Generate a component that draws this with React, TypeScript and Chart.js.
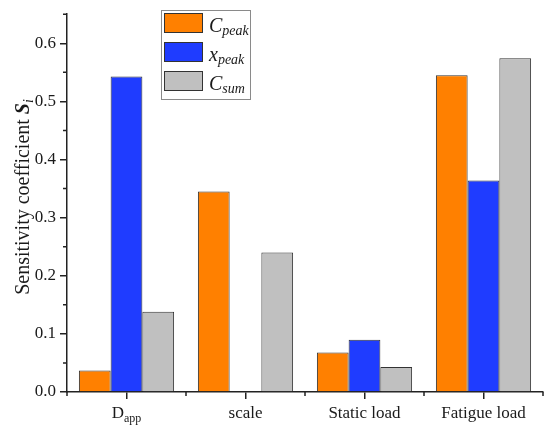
import { useEffect, useRef } from "react"
import { Chart, registerables } from "chart.js"

Chart.register(...registerables)

// "_" marks the start of a subscript
const categories = ["D_app", "scale", "Static load", "Fatigue load"]
const seriesNames = ["C_peak", "x_peak", "C_sum"]
const cPeak = [0.037, 0.345, 0.068, 0.545]
const xPeak = [0.543, 0, 0.09, 0.364]
const cSum = [0.138, 0.24, 0.043, 0.574]
const yMinorTicks = [0.05, 0.15, 0.25, 0.35, 0.45, 0.55, 0.65]

const colors = ["#FF8000", "#1F3CFF", "#C0C0C0"]
const serif = "'Liberation Serif', 'Times New Roman', serif"

function drawRich(
  ctx: CanvasRenderingContext2D,
  text: string,
  x: number,
  y: number,
  font: string,
  subFont: string,
  subDy: number,
  center: boolean
) {
  const [base, sub] = text.split("_")
  ctx.font = font
  const w1 = ctx.measureText(base).width
  ctx.font = subFont
  const w2 = sub ? ctx.measureText(sub).width : 0
  let sx = center ? x - (w1 + w2) / 2 : x
  ctx.textAlign = "left"
  ctx.textBaseline = "alphabetic"
  ctx.font = font
  ctx.fillText(base, sx, y)
  if (sub) {
    ctx.font = subFont
    ctx.fillText(sub, sx + w1, y + subDy)
  }
}

const overlay = {
  id: "overlay",
  afterDraw(chart: any) {
    const ctx: CanvasRenderingContext2D = chart.ctx
    const xs = chart.scales.x
    const ys = chart.scales.y
    const { left, bottom } = chart.chartArea
    ctx.save()
    ctx.strokeStyle = "#222"
    ctx.lineWidth = 1.5
    ctx.beginPath()
    for (const v of yMinorTicks) {
      const py = ys.getPixelForValue(v)
      ctx.moveTo(left - 4, py)
      ctx.lineTo(left, py)
    }
    for (let i = 0; i <= categories.length; i++) {
      const px = xs.getPixelForValue(i - 0.5)
      ctx.moveTo(px, bottom)
      ctx.lineTo(px, bottom + 4)
    }
    ctx.stroke()

    ctx.fillStyle = "#1a1a1a"
    categories.forEach((c, i) => {
      drawRich(ctx, c, xs.getPixelForValue(i), 418, `17px ${serif}`, `12px ${serif}`, 4, true)
    })

    // y axis title
    const t1 = "Sensitivity coefficient "
    const f1 = `20px ${serif}`
    const f2 = `italic bold 20px ${serif}`
    const f3 = `italic 14px ${serif}`
    ctx.font = f1
    const w1 = ctx.measureText(t1).width
    ctx.font = f2
    const w2 = ctx.measureText("S").width
    ctx.font = f3
    const w3 = ctx.measureText("i").width
    ctx.translate(29, 197)
    ctx.rotate(-Math.PI / 2)
    let tx = -(w1 + w2 + w3) / 2
    ctx.textAlign = "left"
    ctx.textBaseline = "alphabetic"
    ctx.font = f1
    ctx.fillText(t1, tx, 0)
    tx += w1
    ctx.font = f2
    ctx.fillText("S", tx, 0)
    tx += w2
    ctx.font = f3
    ctx.fillText("i", tx, 4)
    ctx.setTransform(1, 0, 0, 1, 0, 0)
    ctx.scale(chart.currentDevicePixelRatio, chart.currentDevicePixelRatio)

    // legend
    ctx.strokeStyle = "#8a8a8a"
    ctx.lineWidth = 1
    ctx.strokeRect(161.5, 10.5, 89, 89)
    seriesNames.forEach((name, i) => {
      const top = 13 + i * 29
      ctx.fillStyle = colors[i]
      ctx.fillRect(164, top, 39, 20)
      ctx.strokeStyle = "#333"
      ctx.strokeRect(164.5, top + 0.5, 38, 19)
      ctx.fillStyle = "#1a1a1a"
      drawRich(ctx, name, 209, top + 19, `italic 20px ${serif}`, `italic 14px ${serif}`, 3, false)
    })
    ctx.restore()
  },
}

export default function App() {
  const canvasRef = useRef<HTMLCanvasElement>(null)
  const chartRef = useRef<Chart | null>(null)

  useEffect(() => {
    if (!canvasRef.current) return
    if (chartRef.current) chartRef.current.destroy()
    const ctx = canvasRef.current.getContext("2d")
    if (!ctx) return

    const values = [cPeak, xPeak, cSum]
    chartRef.current = new Chart(ctx, {
      type: "bar",
      data: {
        labels: categories,
        datasets: seriesNames.map((name, i) => ({
          label: name,
          data: values[i],
          backgroundColor: colors[i],
          borderColor: "#333",
          borderWidth: 1,
          categoryPercentage: 0.8,
          barPercentage: 1,
        })),
      },
      options: {
        animation: false,
        responsive: true,
        maintainAspectRatio: false,
        layout: { padding: { left: 0, right: 7, top: 8, bottom: 0 } },
        plugins: {
          legend: { display: false },
          tooltip: { enabled: false },
        },
        scales: {
          x: {
            grid: {
              display: true,
              drawOnChartArea: false,
              drawTicks: true,
              tickLength: 7,
              offset: false,
              color: "#222",
              lineWidth: 1.5,
            },
            border: { display: true, color: "#222", width: 1.5 },
            ticks: { display: false },
            afterFit: (scale: any) => {
              scale.height = 37
            },
          },
          y: {
            min: 0,
            max: 0.65,
            grid: {
              display: true,
              drawOnChartArea: false,
              drawTicks: true,
              tickLength: 7,
              color: "#222",
              lineWidth: 1.5,
            },
            border: { display: true, color: "#222", width: 1.5 },
            ticks: {
              stepSize: 0.1,
              includeBounds: false,
              padding: 4,
              color: "#1a1a1a",
              font: { family: serif, size: 17 },
              callback: (v: any) => Number(v).toFixed(1),
            },
            afterFit: (scale: any) => {
              scale.width = 67
            },
          },
        },
      },
      plugins: [overlay],
    })

    return () => {
      if (chartRef.current) {
        chartRef.current.destroy()
        chartRef.current = null
      }
    }
  }, [])

  return (
    <div style={{ position: "absolute", left: 0, top: 0, width: 550, height: 429 }}>
      <canvas ref={canvasRef}></canvas>
    </div>
  )
}
